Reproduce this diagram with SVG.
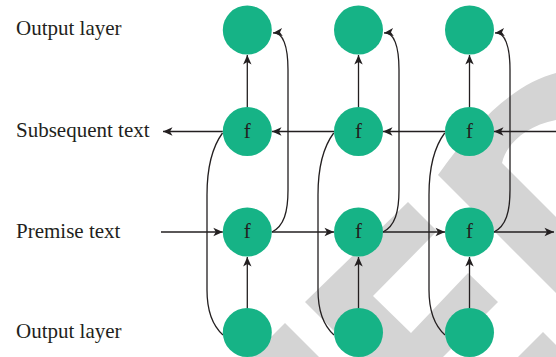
<svg xmlns="http://www.w3.org/2000/svg" width="556" height="357" viewBox="0 0 556 357">
<defs>
<style>
.node{fill:#16b386}
.lbl{font-family:"Liberation Serif","Times New Roman",serif;font-size:21px;fill:#231f20}
.fn{font-family:"Liberation Serif","Times New Roman",serif;font-size:21px;fill:#231f20;text-anchor:middle}
.c{fill:none;stroke:#231f20;stroke-width:1.3}
.wm{fill:#d4d4d4}
</style>
<marker id="ah" viewBox="-10 -5 11 10" refX="0" refY="0" markerWidth="11" markerHeight="10" markerUnits="userSpaceOnUse" orient="auto">
<path d="M0,0 L-9.5,-4.2 L-7,0 L-9.5,4.2 Z" fill="#231f20"/>
</marker>
</defs>
<rect width="556" height="357" fill="#ffffff"/>
<g id="watermark">
<path class="wm" d="M556 73 C520 82 480 115 438 175 L556 293 L556 217 L502 163 C506 145 525 126 556 120 Z"/>
<path class="wm" d="M408 202 L437 231 L373 296 L411 333 L468 273 L498 302 L443 357 L360 357 L305 302 Z"/>
<path class="wm" d="M285 323 L319 357 L251 357 Z"/>
<path class="wm" d="M543 332 L556 345 L556 357 L518 357 Z"/>
</g>
<g id="connectors">
<line class="c" x1="247.3" y1="107" x2="247.3" y2="55" marker-end="url(#ah)"/>
<line class="c" x1="358.5" y1="107" x2="358.5" y2="55" marker-end="url(#ah)"/>
<line class="c" x1="469.5" y1="107" x2="469.5" y2="55" marker-end="url(#ah)"/>
<line class="c" x1="247.3" y1="308" x2="247.3" y2="257" marker-end="url(#ah)"/>
<line class="c" x1="358.5" y1="308" x2="358.5" y2="257" marker-end="url(#ah)"/>
<line class="c" x1="469.5" y1="308" x2="469.5" y2="257" marker-end="url(#ah)"/>
<line class="c" x1="556" y1="131.5" x2="494" y2="131.5" marker-end="url(#ah)"/>
<line class="c" x1="445" y1="131.5" x2="383" y2="131.5" marker-end="url(#ah)"/>
<line class="c" x1="334" y1="131.5" x2="272" y2="131.5" marker-end="url(#ah)"/>
<line class="c" x1="222.8" y1="131.5" x2="163" y2="131.5" marker-end="url(#ah)"/>
<line class="c" x1="161" y1="232" x2="222.8" y2="232" marker-end="url(#ah)"/>
<line class="c" x1="271.8" y1="232" x2="334" y2="232" marker-end="url(#ah)"/>
<line class="c" x1="383" y1="232" x2="445" y2="232" marker-end="url(#ah)"/>
<line class="c" x1="494" y1="232" x2="554" y2="232" marker-end="url(#ah)"/>
<path class="c" d="M272 232 C284 226 288 212 288 190 L288 70 C288 46 283 32 273 33" marker-end="url(#ah)"/>
<path class="c" d="M383 232 C395 226 399 212 399 190 L399 70 C399 46 394 32 384 33" marker-end="url(#ah)"/>
<path class="c" d="M494 232 C506 226 510 212 510 190 L510 70 C510 46 505 32 495 33" marker-end="url(#ah)"/>
<path class="c" d="M222.5 133 C213 146 207 165 207 195 L207 290 C207 312 213 326 223 335"/>
<path class="c" d="M333.7 133 C324 146 318 165 318 195 L318 290 C318 312 324 326 334 335"/>
<path class="c" d="M444.7 133 C435 146 429 165 429 195 L429 290 C429 312 435 326 445 335"/>
</g>
<g id="out1"><circle class="node" cx="247.3" cy="30" r="24.5"/></g>
<g id="out2"><circle class="node" cx="358.5" cy="30" r="24.5"/></g>
<g id="out3"><circle class="node" cx="469.5" cy="30" r="24.5"/></g>
<g id="sub1"><circle class="node" cx="247.3" cy="131.5" r="24.5"/><text class="fn" x="247.3" y="137.5">f</text></g>
<g id="sub2"><circle class="node" cx="358.5" cy="131.5" r="24.5"/><text class="fn" x="358.5" y="137.5">f</text></g>
<g id="sub3"><circle class="node" cx="469.5" cy="131.5" r="24.5"/><text class="fn" x="469.5" y="137.5">f</text></g>
<g id="pre1"><circle class="node" cx="247.3" cy="232" r="24.5"/><text class="fn" x="247.3" y="238">f</text></g>
<g id="pre2"><circle class="node" cx="358.5" cy="232" r="24.5"/><text class="fn" x="358.5" y="238">f</text></g>
<g id="pre3"><circle class="node" cx="469.5" cy="232" r="24.5"/><text class="fn" x="469.5" y="238">f</text></g>
<g id="in1"><circle class="node" cx="247.3" cy="332.5" r="24.5"/></g>
<g id="in2"><circle class="node" cx="358.5" cy="332.5" r="24.5"/></g>
<g id="in3"><circle class="node" cx="469.5" cy="332.5" r="24.5"/></g>
<g id="labels">
<text class="lbl" x="16" y="35">Output layer</text>
<text class="lbl" x="16" y="137">Subsequent text</text>
<text class="lbl" x="16" y="238">Premise text</text>
<text class="lbl" x="16" y="338">Output layer</text>
</g>
</svg>
